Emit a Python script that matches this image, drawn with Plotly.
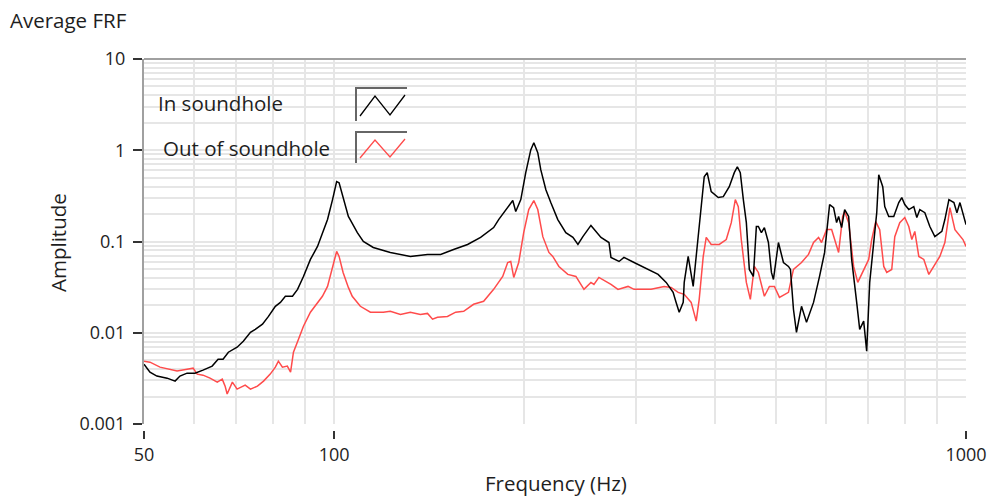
import plotly.graph_objects as go

# ---------------- data ----------------
in_freq = [50, 51.1, 52.4, 54.4, 56.0, 57.0, 58.5, 60.2, 62.0, 64.1,
           65.5, 66.7, 68.0, 70.2, 71.8, 73.7, 75.0, 77.0, 78.7, 80.7,
           82.2, 83.7, 85.9, 87.5, 89.4, 91.7, 94.1, 95.8, 97.6, 99.4,
           100.9, 101.8, 103.3, 105.3, 106.0, 108.8, 111.2, 115.3, 122.7, 132.0,
           140.5, 147.4, 154.5, 162.6, 170.5, 178.8, 182.1, 188.2, 191.7, 193.8,
           197.4, 201.0, 204.7, 207.0, 210.0, 212.3, 216.3, 220.2, 225.9, 232.6,
           238.7, 243.1, 247.5, 254.9, 259.6, 264.4, 272.2, 274.2, 282.4, 287.5,
           298.3, 313.9, 325.6, 335.3, 343.9, 347.7, 351.6, 356.8, 358.1, 363.3,
           367.3, 370.0, 372.7, 376.8, 381.0, 385.2, 389.4, 395.1, 405.4, 412.9,
           422.0, 429.8, 434.6, 439.3, 444.2, 449.1, 454.0, 460.7, 465.8, 469.2,
           474.4, 479.6, 486.7, 492.1, 495.7, 504.8, 514.1, 523.6, 527.4, 533.2,
           539.1, 549.1, 559.2, 573.7, 586.4, 597.3, 608.3, 617.2, 624.0, 628.6,
           635.5, 642.6, 652.0, 659.2, 671.4, 678.8, 688.7, 696.3, 704.0, 714.4,
           722.3, 727.6, 738.3, 743.7, 754.6, 768.5, 782.7, 791.3, 800.0, 811.8,
           826.7, 835.9, 845.1, 860.7, 876.5, 892.7, 915.8, 925.9, 939.6, 956.9,
           967.5, 978.2, 992.7, 1000]
in_amp = [0.00453, 0.0037, 0.00335, 0.00318, 0.00295, 0.00335, 0.00361, 0.00361, 0.00389, 0.00431,
          0.00513, 0.00513, 0.00612, 0.00695, 0.00807, 0.0101, 0.0109, 0.0124, 0.0151, 0.0195,
          0.0215, 0.0251, 0.0251, 0.0299, 0.0414, 0.0636, 0.0882, 0.125, 0.174, 0.288,
          0.453, 0.441, 0.31, 0.188, 0.174, 0.125, 0.1, 0.086, 0.0759, 0.0686,
          0.0722, 0.0722, 0.0818, 0.0928, 0.111, 0.142, 0.174, 0.235, 0.281, 0.213,
          0.288, 0.568, 1.01, 1.21, 0.939, 0.612, 0.370, 0.267, 0.174, 0.125,
          0.111, 0.0928, 0.113, 0.150, 0.129, 0.111, 0.0975, 0.0669, 0.0604, 0.0669,
          0.0589, 0.0494, 0.0436, 0.0356, 0.0277, 0.0215, 0.0168, 0.0215, 0.0356, 0.0686,
          0.0414, 0.0322, 0.0533, 0.113, 0.207, 0.513, 0.568, 0.352, 0.303, 0.31,
          0.399, 0.568, 0.660, 0.568, 0.288, 0.161, 0.0494, 0.0414, 0.146, 0.146,
          0.125, 0.142, 0.0975, 0.0458, 0.0384, 0.0975, 0.0589, 0.0533, 0.0494, 0.0181,
          0.0101, 0.0195, 0.0130, 0.0215, 0.0414, 0.0759, 0.254, 0.235, 0.161, 0.188,
          0.142, 0.224, 0.188, 0.0636, 0.0215, 0.0109, 0.0134, 0.00628, 0.0356, 0.0975,
          0.207, 0.540, 0.399, 0.241, 0.188, 0.188, 0.267, 0.303, 0.254, 0.224,
          0.241, 0.183, 0.224, 0.207, 0.146, 0.113, 0.129, 0.174, 0.288, 0.267,
          0.207, 0.267, 0.188, 0.153]

out_freq = [50, 51.1, 53.0, 55.0, 56.4, 58.5, 59.8, 60.7, 62.0, 63.6,
            65.3, 66.5, 67.2, 67.7, 69.0, 70.2, 71.5, 72.3, 73.7, 75.6,
            77.3, 79.2, 80.7, 81.6, 82.8, 84.3, 85.3, 86.2, 87.8, 89.4,
            91.7, 94.1, 95.8, 97.6, 99.4, 100.9, 101.8, 103.3, 105.3, 106.8,
            110.0, 114.1, 119.6, 122.7, 127.3, 132.0, 136.9, 140.5, 143.1, 145.7,
            151.1, 155.7, 160.3, 166.2, 172.4, 178.8, 184.8, 188.2, 190.3, 192.4,
            195.9, 199.5, 203.2, 207.0, 210.0, 213.9, 218.7, 221.8, 226.8, 234.3,
            241.3, 248.5, 254.9, 257.7, 262.4, 269.2, 274.2, 281.3, 291.8, 298.3,
            317.4, 332.8, 341.4, 350.3, 358.1, 367.3, 374.1, 378.2, 383.8, 388.0,
            395.1, 406.9, 417.4, 425.1, 431.4, 436.1, 440.9, 449.1, 455.7, 462.4,
            469.2, 479.6, 488.5, 497.5, 506.7, 523.6, 533.2, 549.1, 563.3, 573.7,
            584.3, 590.7, 601.7, 612.8, 624.0, 628.6, 637.9, 642.6, 652.0, 664.0,
            674.0, 688.7, 701.5, 709.2, 719.6, 730.2, 741.0, 749.2, 762.9, 771.4,
            785.5, 800.0, 811.8, 820.8, 829.8, 842.0, 857.5, 873.3, 889.5, 909.1,
            925.9, 943.1, 960.5, 974.7, 989.0, 1000]
out_amp = [0.00488, 0.00476, 0.0042, 0.00399, 0.0038, 0.00399, 0.00409, 0.00352, 0.00343, 0.00318,
           0.00288, 0.0031, 0.0026, 0.00213, 0.00288, 0.00241, 0.00254, 0.00267, 0.00241, 0.0026,
           0.00295, 0.00352, 0.0042, 0.00488, 0.0042, 0.00431, 0.0037, 0.00612, 0.00849, 0.0118,
           0.0168, 0.0215, 0.0251, 0.0322, 0.0533, 0.0778, 0.0686, 0.0458, 0.0314, 0.0251,
           0.0195, 0.0168, 0.0168, 0.0172, 0.0159, 0.0168, 0.0159, 0.0163, 0.0141, 0.0148,
           0.0151, 0.0168, 0.0172, 0.0205, 0.0221, 0.0299, 0.0414, 0.0589, 0.0604, 0.0404,
           0.0589, 0.125, 0.224, 0.281, 0.224, 0.113, 0.0759, 0.0686, 0.0533, 0.0436,
           0.0414, 0.0299, 0.0356, 0.0339, 0.0404, 0.0366, 0.0339, 0.0299, 0.0322, 0.0299,
           0.0299, 0.0322, 0.0314, 0.0277, 0.0264, 0.0215, 0.0134, 0.0232, 0.0686, 0.111,
           0.0928, 0.0928, 0.105, 0.161, 0.288, 0.241, 0.105, 0.0356, 0.0232, 0.0533,
           0.0458, 0.0251, 0.0322, 0.0322, 0.0244, 0.0277, 0.0494, 0.0589, 0.0722, 0.0975,
           0.111, 0.0975, 0.135, 0.135, 0.0882, 0.0759, 0.188, 0.213, 0.161, 0.0533,
           0.0356, 0.0494, 0.0636, 0.105, 0.165, 0.135, 0.0533, 0.0458, 0.0494, 0.113,
           0.161, 0.183, 0.146, 0.105, 0.129, 0.0686, 0.0636, 0.0436, 0.0533, 0.0686,
           0.0975, 0.235, 0.135, 0.119, 0.105, 0.0882]

x_tick_vals = [50, 100, 1000]
x_tick_text = ["50", "100", "1000"]
x_minor_vals = [60, 70, 80, 90, 200, 300, 400, 500, 600, 700, 800, 900]
y_tick_vals = [0.001, 0.01, 0.1, 1, 10]
y_tick_text = ["0.001", "0.01", "0.1", "1", "10"]
y_minor_vals = [k * 10 ** d for d in range(-3, 1) for k in range(2, 10)]

series_names = ["In soundhole", "Out of soundhole"]

# ---------------- layout geometry ----------------
W, H = 989, 497
L, R, T, B = 144, 966, 59, 424

def px_x(px):
    return (px - L) / (R - L)

def px_y(py):
    return (B - py) / (B - T)

FONT = "Open Sans"
TXT = "#1e1e1e"
GRID = "#e6e6e6"
LBL = 20.5

fig = go.Figure()
fig.add_trace(go.Scatter(x=out_freq, y=out_amp, mode="lines", name=series_names[1],
                         line=dict(color="#ff4b4b", width=1.5)))
fig.add_trace(go.Scatter(x=in_freq, y=in_amp, mode="lines", name=series_names[0],
                         line=dict(color="#000000", width=1.5)))

fig.update_layout(
    width=W, height=H,
    margin=dict(l=L, r=W - R, t=T, b=H - B, pad=0, autoexpand=False),
    paper_bgcolor="white", plot_bgcolor="white",
    showlegend=False,
    font=dict(family=FONT, size=18, color=TXT),
    xaxis=dict(type="log", range=[1.69897, 3.0], tickvals=x_tick_vals, ticktext=x_tick_text,
               automargin=False,
               ticks="outside", ticklen=14, tickwidth=1.5, tickcolor="#333333",
               showgrid=True, gridcolor=GRID, gridwidth=2, zeroline=False, showline=False,
               tickfont=dict(size=18, color=TXT),
               minor=dict(tickvals=x_minor_vals, showgrid=True, gridcolor=GRID, gridwidth=2, ticks="")),
    yaxis=dict(type="log", range=[-3, 1], tickvals=y_tick_vals, ticktext=y_tick_text,
               automargin=False,
               ticks="outside", ticklen=9, tickwidth=1.5, tickcolor="#333333",
               ticklabelstandoff=4,
               showgrid=True, gridcolor=GRID, gridwidth=1.5, zeroline=False,
               showline=True, linecolor="#a0a0a0", linewidth=2,
               tickfont=dict(size=18, color=TXT),
               minor=dict(tickvals=y_minor_vals, showgrid=True, gridcolor=GRID, gridwidth=1.5, ticks="")),
)

shapes = []
# top frame line
shapes.append(dict(type="line", xref="paper", yref="paper", x0=0, x1=1, y0=1, y1=1,
                   line=dict(color="#a0a0a0", width=2), layer="above"))
# gap between plot bottom and x tick marks
shapes.append(dict(type="rect", xref="paper", yref="paper", x0=px_x(141), x1=px_x(985),
                   y0=px_y(431), y1=px_y(425), fillcolor="white", line=dict(width=0), layer="above"))
# legend background
shapes.append(dict(type="rect", xref="paper", yref="paper", x0=px_x(147), x1=px_x(414),
                   y0=px_y(167), y1=px_y(80), fillcolor="white", line=dict(width=0), layer="between"))

def path(points):
    return "M " + " L ".join(f"{px_x(a):.5f},{px_y(b):.5f}" for a, b in points)

for (top, bot, color) in [(88, 121, "#000000"), (132, 163, "#ff4b4b")]:
    shapes.append(dict(type="path", xref="paper", yref="paper",
                       path=path([(407, top), (356, top), (356, bot)]),
                       line=dict(color="#666666", width=2), layer="above"))
    mid_hi = top + 8
    mid_lo = bot - 5
    shapes.append(dict(type="path", xref="paper", yref="paper",
                       path=path([(360, mid_lo), (375, mid_hi), (390, mid_lo - 1), (405, mid_hi - 1)]),
                       line=dict(color=color, width=1.3), layer="above"))
fig.update_layout(shapes=shapes)

ann = []
ann.append(dict(text="Average FRF", xref="paper", yref="paper", x=px_x(8), y=px_y(20),
                xanchor="left", yanchor="middle", showarrow=False, font=dict(size=LBL, color=TXT)))
ann.append(dict(text="Amplitude", xref="paper", yref="paper", x=px_x(58), y=px_y(243),
                xanchor="center", yanchor="middle", textangle=-90, showarrow=False,
                font=dict(size=LBL, color=TXT)))
ann.append(dict(text="Frequency (Hz)", xref="paper", yref="paper", x=px_x(556), y=px_y(483),
                xanchor="center", yanchor="middle", showarrow=False, borderpad=0,
                font=dict(size=LBL, color=TXT)))
ann.append(dict(text=series_names[0], xref="paper", yref="paper", x=px_x(156), y=px_y(103),
                xanchor="left", yanchor="middle", showarrow=False, font=dict(size=LBL, color=TXT)))
ann.append(dict(text=series_names[1], xref="paper", yref="paper", x=px_x(161), y=px_y(148),
                xanchor="left", yanchor="middle", showarrow=False, font=dict(size=LBL, color=TXT)))
fig.update_layout(annotations=ann)

fig.write_html("out.html")
